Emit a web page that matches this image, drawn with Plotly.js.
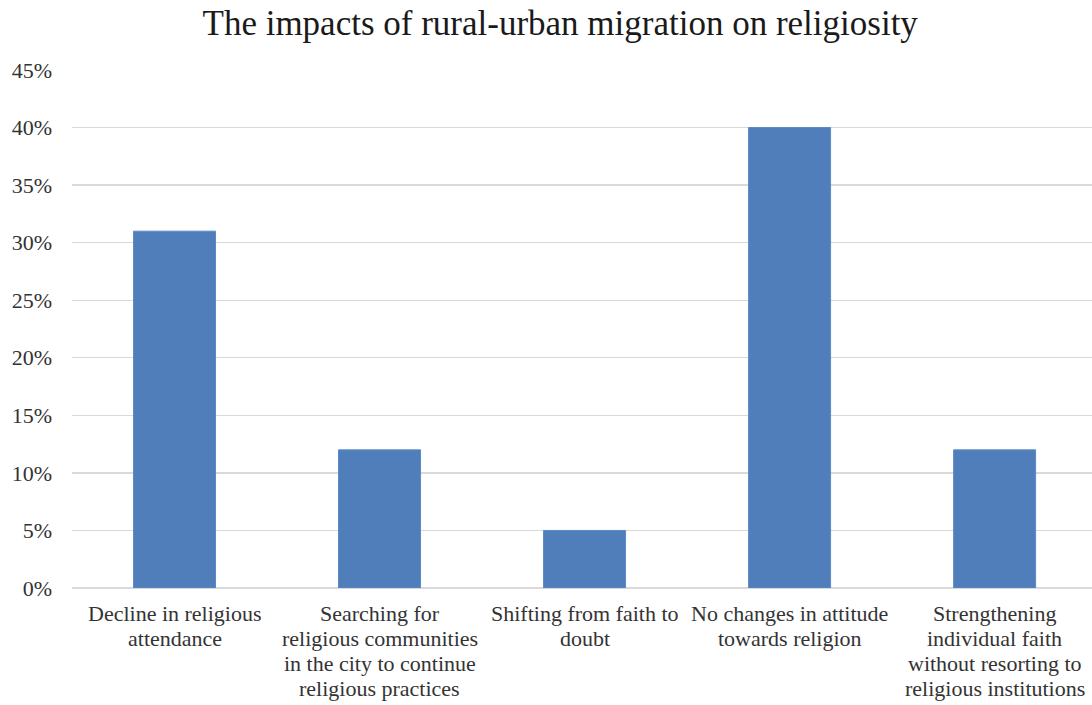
<!DOCTYPE html>
<html>
<head>
<meta charset="utf-8">
<script src="https://cdn.plot.ly/plotly-3.0.1.min.js"></script>
<style>html,body{margin:0;padding:0;background:#fff;}#chart{width:1092px;height:705px;}</style>
</head>
<body>
<div id="chart"></div>
<script>
const categories = [
  "Decline in religious attendance",
  "Searching for religious communities in the city to continue religious practices",
  "Shifting from faith to doubt",
  "No changes in attitude towards religion",
  "Strengthening individual faith without resorting to religious institutions"
];
const labelLines = [
  ["Decline in religious", "attendance"],
  ["Searching for", "religious communities", "in the city to continue", "religious practices"],
  ["Shifting from faith to", "doubt"],
  ["No changes in attitude", "towards religion"],
  ["Strengthening", "individual faith", "without resorting to", "religious institutions"]
];
const values = [0.31, 0.12, 0.05, 0.40, 0.12];
const titleText = "The impacts of rural-urban migration on religiosity";

const serif = 'Liberation Serif, Times New Roman, serif';

const trace = {
  type: 'bar',
  x: categories,
  y: values,
  width: 0.4,
  marker: {color: '#4F7EBA', line: {color: '#5B8AC6', width: 1}},
  hoverinfo: 'skip'
};

const LINE_H = 25;
const FIRST = -11;
const annotations = [];
labelLines.forEach((lines, ci) => {
  lines.forEach((ln, li) => {
    annotations.push({
      x: categories[ci], xref: 'x',
      y: 0, yref: 'paper',
      xanchor: 'center', yanchor: 'top',
      yshift: FIRST - li * LINE_H,
      text: ln, showarrow: false,
      font: {family: serif, size: 22, color: '#333333'}
    });
  });
});

const layout = {
  width: 1092,
  height: 705,
  margin: {l: 72, r: 0, t: 70, b: 117},
  paper_bgcolor: '#ffffff',
  plot_bgcolor: '#ffffff',
  showlegend: false,
  title: {
    text: titleText,
    x: 0.513,
    xanchor: 'center',
    y: 0.968,
    yanchor: 'middle',
    font: {family: serif, size: 35, color: '#1a1a1a'}
  },
  xaxis: {
    type: 'category',
    range: [-0.5, 4.475],
    showgrid: false,
    showline: false,
    zeroline: false,
    ticks: '',
    showticklabels: false
  },
  yaxis: {
    range: [0, 0.45],
    dtick: 0.05,
    tick0: 0,
    tickformat: '.0%',
    showgrid: true,
    gridcolor: '#d9d9d9',
    gridwidth: 1.3,
    zeroline: true,
    zerolinecolor: '#d9d9d9',
    zerolinewidth: 1.3,
    showline: false,
    ticks: '',
    ticklabelstandoff: 19,
    tickfont: {family: serif, size: 22, color: '#333333'}
  },
  annotations: annotations,
  bargap: 0.6
};

Plotly.newPlot('chart', [trace], layout, {displayModeBar: false, staticPlot: true});
</script>
</body>
</html>
